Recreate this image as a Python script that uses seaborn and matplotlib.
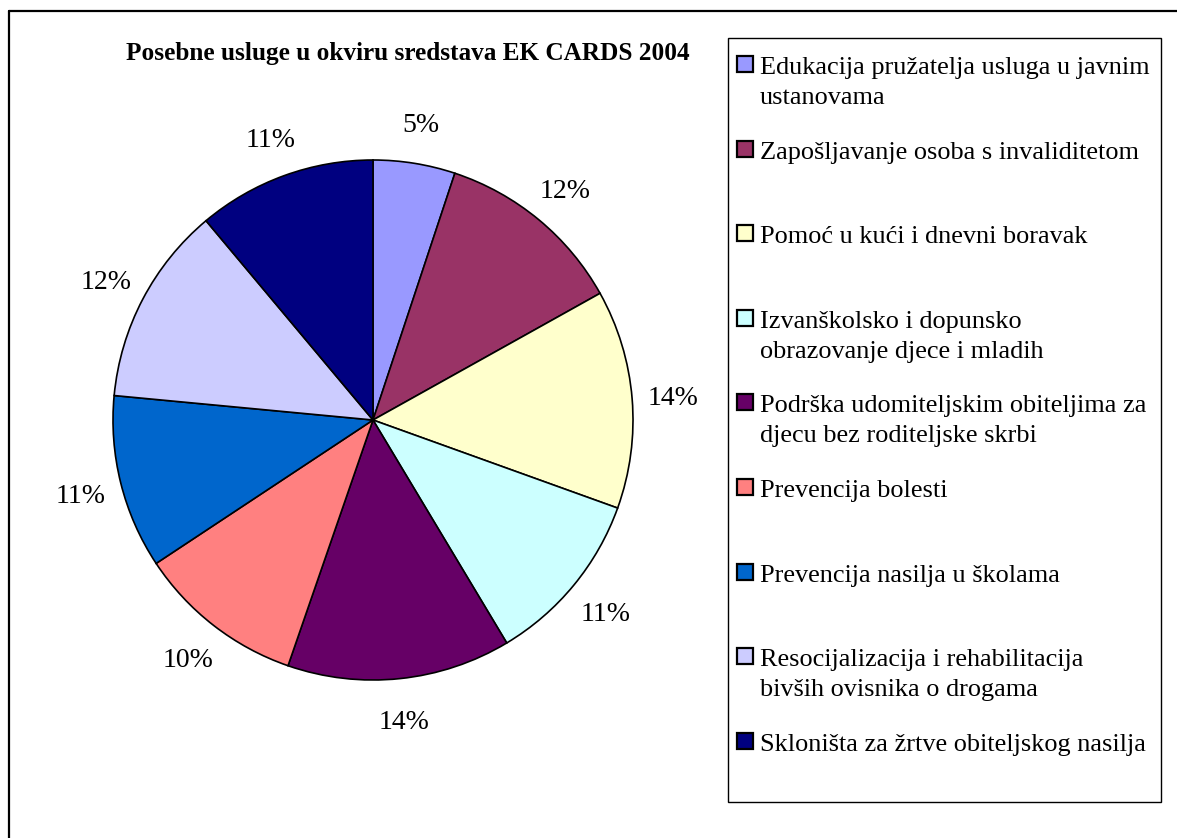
import matplotlib
matplotlib.use("Agg")
import matplotlib.pyplot as plt
import seaborn as sns
from matplotlib.patches import Rectangle
from matplotlib.lines import Line2D

# data (shares of the EK CARDS 2004 special services)
categories = [
    "Edukacija pružatelja usluga u javnim\nustanovama",
    "Zapošljavanje osoba s invaliditetom",
    "Pomoć u kući i dnevni boravak",
    "Izvanškolsko i dopunsko\nobrazovanje djece i mladih",
    "Podrška udomiteljskim obiteljima za\ndjecu bez roditeljske skrbi",
    "Prevencija bolesti",
    "Prevencija nasilja u školama",
    "Resocijalizacija i rehabilitacija\nbivših ovisnika o drogama",
    "Skloništa za žrtve obiteljskog nasilja",
]
shares = [5.1, 11.8, 13.6, 10.9, 13.9, 10.4, 10.8, 12.4, 11.1]
colors = ["#9999FF", "#993366", "#FFFFCC", "#CCFFFF", "#660066",
          "#FF8080", "#0066CC", "#CCCCFF", "#000080"]
title = "Posebne usluge u okviru sredstava EK CARDS 2004"

sns.set_theme(style="white")
plt.rcParams["font.family"] = ["Liberation Serif", "DejaVu Serif"]
plt.rcParams["text.color"] = "black"

W, H = 1177, 838
fig = plt.figure(figsize=(W / 100, H / 100), dpi=100)
fig.patch.set_facecolor("white")


def fx(px):
    return px / W


def fy(py):
    return 1 - py / H


# outer chart frame (only left and top edges visible in the crop)
fig.add_artist(Line2D([fx(9), fx(9)], [fy(11), 0], color="black", lw=1.6))
fig.add_artist(Line2D([fx(9), 1], [fy(11), fy(11)], color="black", lw=1.6))

# pie
cx, cy, r = 373, 420, 260
ax = fig.add_axes([fx(cx - r), fy(cy + r), 2 * r / W, 2 * r / H])
wedges, texts, autotexts = ax.pie(
    shares, colors=colors, startangle=90, counterclock=False,
    autopct="%.0f%%", pctdistance=1.158,
    wedgeprops=dict(edgecolor="black", linewidth=1.2),
    textprops=dict(fontsize=20, color="black"),
)
for t in autotexts:
    t.set_va("center_baseline")
ax.set_xlim(-1, 1)
ax.set_ylim(-1, 1)
ax.axis("off")

fig.text(fx(408), fy(60), title, ha="center", va="baseline",
         fontsize=18.2, fontweight="bold")

# legend box
lx0, ly0, lx1, ly1 = 728, 38, 1161, 802
fig.add_artist(Rectangle((fx(lx0), fy(ly1)), fx(lx1 - lx0), (ly1 - ly0) / H,
                         transform=fig.transFigure, facecolor="none",
                         edgecolor="black", lw=1.0))
for i, (lab, col) in enumerate(zip(categories, colors)):
    yc = 64 + 84.6 * i
    fig.add_artist(Rectangle((fx(737), fy(yc + 8)), fx(16), 16 / H,
                             transform=fig.transFigure, facecolor=col,
                             edgecolor="black", lw=1.6))
    for k, line in enumerate(lab.split("\n")):
        fig.text(fx(760), fy(yc + 10 + 30 * k), line, ha="left",
                 va="baseline", fontsize=18.9)

fig.savefig("out.png", dpi=100)
